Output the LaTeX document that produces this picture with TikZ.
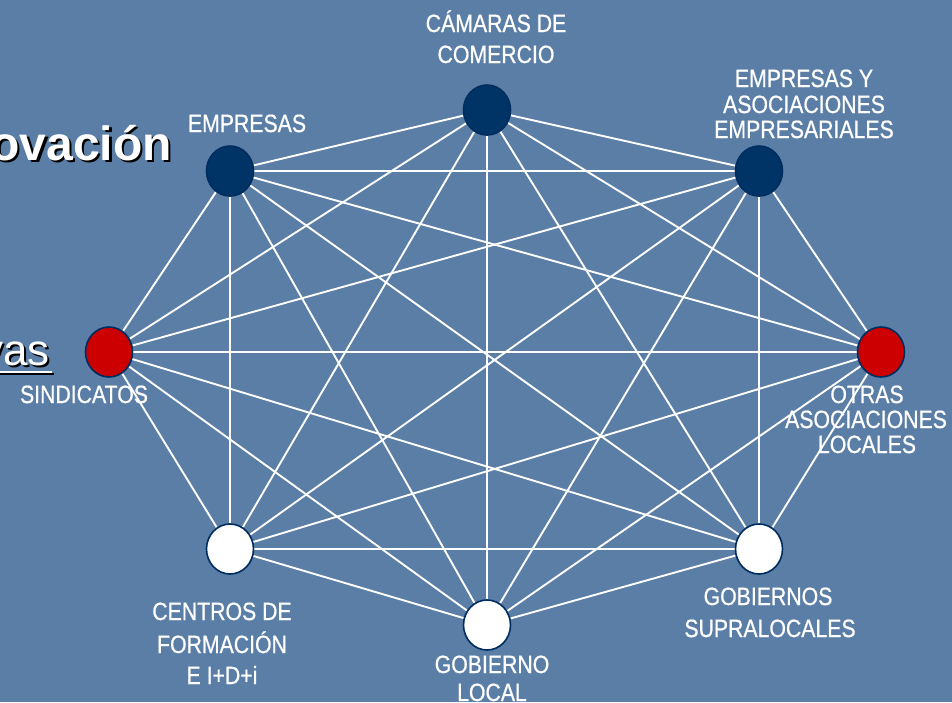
\documentclass[tikz,border=0pt]{standalone}
\usepackage{fontspec}
\setmainfont{Liberation Sans}
\newfontfamily\labfont[FakeStretch=0.85,FakeBold=0.7]{Liberation Sans}
\usetikzlibrary{shapes.geometric}
\pgfdeclarelayer{bg}
\pgfdeclarelayer{edges}
\pgfsetlayers{bg,edges,main}
\definecolor{bgblue}{RGB}{90,126,166}
\definecolor{navy}{RGB}{0,52,102}
\definecolor{navyline}{RGB}{0,45,95}
\definecolor{nodered}{RGB}{204,0,0}
\tikzset{
  actor/.style={ellipse, minimum width=47pt, minimum height=50pt, inner sep=0pt, draw=navyline, line width=1.6pt},
  darknode/.style={actor, fill=navy},
  rednode/.style={actor, fill=nodered},
  whitenode/.style={actor, fill=white},
  edge/.style={draw=white, line width=1.9pt},
  lab/.style={font=\labfont\fontsize{25}{26}\selectfont, text=white, inner sep=0pt, anchor=base},
}
\begin{document}
\begin{tikzpicture}[x=1pt,y=-1pt]
\useasboundingbox (0,0) rectangle (952,702);
\begin{pgfonlayer}{bg}
  \fill[bgblue] (0,0) rectangle (952,702);
\end{pgfonlayer}
\clip (0,0) rectangle (952,702);

% title fragments with shadow
\node[anchor=base east, inner sep=0pt, font=\bfseries\fontsize{48}{50}\selectfont, text=black] (titlesh) at (174.5,162.5) {ovación};
\node[anchor=base east, inner sep=0pt, font=\bfseries\fontsize{48}{50}\selectfont, text=white] (title) at (172,160) {ovación};
\node[anchor=base east, inner sep=0pt, font=\fontsize{44}{46}\selectfont, text=black] (vassh) at (52,367) {vas};
\draw[black, line width=2.2pt] (-5,374) -- (54,374);
\node[anchor=base east, inner sep=0pt, font=\fontsize{44}{46}\selectfont, text=white] (vas) at (50,365) {vas};
\draw[white, line width=2.2pt] (-5,372) -- (52,372);

% actors
\node[darknode] (cam) at (487,110) {};
\node[darknode] (emp) at (230,171) {};
\node[darknode] (eya) at (759,171) {};
\node[rednode] (sin) at (109,352) {};
\node[rednode] (otr) at (881,352) {};
\node[whitenode] (cen) at (230,549) {};
\node[whitenode] (gsu) at (759,549) {};
\node[whitenode] (glo) at (487,625) {};

% connectors (complete network)
\begin{pgfonlayer}{edges}
\foreach \a/\b in {cam/eya,cam/otr,cam/gsu,cam/glo,cam/cen,cam/sin,cam/emp,
                   eya/otr,eya/gsu,eya/glo,eya/cen,eya/sin,eya/emp,
                   otr/gsu,otr/glo,otr/cen,otr/sin,otr/emp,
                   gsu/glo,gsu/cen,gsu/sin,gsu/emp,
                   glo/cen,glo/sin,glo/emp,
                   cen/sin,cen/emp,
                   sin/emp}
  \draw[edge] (\a) -- (\b);
\end{pgfonlayer}

% labels
\node[lab] (camA) at (496,32) {CÁMARAS DE};
\node[lab] (camB) at (496,63) {COMERCIO};
\node[lab] (empA) at (247,132) {EMPRESAS};
\node[lab] (eyaA) at (804,87) {EMPRESAS Y};
\node[lab] (eyaB) at (804,113) {ASOCIACIONES};
\node[lab] (eyaC) at (804,138) {EMPRESARIALES};
\node[lab] (sinA) at (84,403) {SINDICATOS};
\node[lab] (otrA) at (867,403) {OTRAS};
\node[lab] (otrB) at (866,428) {ASOCIACIONES};
\node[lab] (otrC) at (867,453) {LOCALES};
\node[lab] (gsuA) at (768,605) {GOBIERNOS};
\node[lab] (gsuB) at (770,637) {SUPRALOCALES};
\node[lab] (cenA) at (222,620) {CENTROS DE};
\node[lab] (cenB) at (222,653) {FORMACIÓN};
\node[lab] (cenC) at (222,684) {E I+D+i};
\node[lab] (gloA) at (492,673) {GOBIERNO};
\node[lab] (gloB) at (492,701) {LOCAL};
\end{tikzpicture}
\end{document}
